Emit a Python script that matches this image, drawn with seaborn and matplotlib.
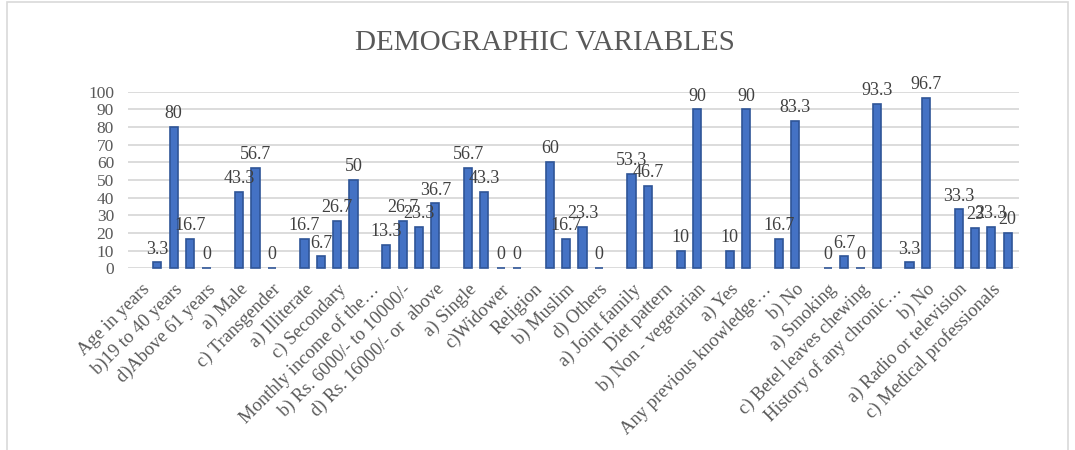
import numpy as np
import pandas as pd
import matplotlib
matplotlib.use('Agg')
import matplotlib.pyplot as plt
import seaborn as sns
from matplotlib.patches import Rectangle

# survey items in chart order; header rows have no value
items = [
    "Age in years", "a) Below 18 years", "b)19 to 40 years", "c) 41 to 60 years", "d)Above 61 years",
    "Gender", "a) Male", "b) Female", "c) Transgender",
    "Education", "a) Illiterate", "b) Primary", "c) Secondary", "d) Graduate",
    "Monthly income of the…", "a) Below Rs. 6000/-", "b) Rs. 6000/- to 10000/-",
    "c) Rs. 10001/- to 16000/-", "d) Rs. 16000/- or  above",
    "Marital status", "a) Single", "b) Married", "c)Widower", "d) Divorced",
    "Religion", "a) Hindu", "b) Muslim", "c) Christian", "d) Others",
    "Type of family", "a) Joint family", "b) Nuclear family",
    "Diet pattern", "a) Vegetarian", "b) Non - vegetarian",
    "Any family history…", "a) Yes", "b) No",
    "Any previous knowledge…", "a) Yes", "b) No",
    "Habits", "a) Smoking", "b) Alcohol", "c) Betel leaves chewing", "d) None",
    "History of any chronic…", "a) Yes", "b) No",
    "Source of information", "a) Radio or television", "b) Newspaper",
    "c) Medical professionals", "d) Friends and relatives",
]

values = [
    None, 3.3, 80, 16.7, 0,
    None, 43.3, 56.7, 0,
    None, 16.7, 6.7, 26.7, 50,
    None, 13.3, 26.7, 23.3, 36.7,
    None, 56.7, 43.3, 0, 0,
    None, 60, 16.7, 23.3, 0,
    None, 53.3, 46.7,
    None, 10, 90,
    None, 10, 90,
    None, 16.7, 83.3,
    None, 0, 6.7, 0, 93.3,
    None, 3.3, 96.7,
    None, 33.3, 23, 23.3, 20,
]

yticks = list(range(0, 101, 10))

sns.set_style('white')
plt.rcParams['font.family'] = ['Liberation Serif', 'DejaVu Serif']

df = pd.DataFrame({'pos': range(len(items)), 'item': items,
                   'value': [np.nan if v is None else v for v in values]})

fig = plt.figure(figsize=(10.75, 4.5), dpi=100)
ax = fig.add_axes([0.119, 0.404, 0.829, 0.392])

sns.barplot(data=df, x='pos', y='value', order=list(range(len(items))),
            color='#4472C4', saturation=1, width=0.5, edgecolor='#2F5597',
            linewidth=1.2, errorbar=None, ax=ax, zorder=3)
for p in ax.patches:
    p.set_clip_on(False)

# data labels
for i, v in enumerate(values):
    if v is None:
        continue
    ax.annotate(f'{v:g}', (i, v), xytext=(0, 3.5), textcoords='offset points',
                ha='center', va='bottom', fontsize=13, color='#404040')

ax.set_ylim(0, 100)
ax.set_xlim(-0.8, 53.7)
ax.set_yticks(yticks)
ax.set_yticklabels([str(t) for t in yticks], fontsize=12.5, color='#595959')
ax.yaxis.grid(True, color='#D9D9D9', linewidth=1.3, zorder=0)
ax.set_axisbelow(True)

# Excel shows every other category label
shown = list(range(0, len(items), 2))
ax.set_xticks(shown)
ax.set_xticklabels([items[i] for i in shown], rotation=45, ha='right',
                   rotation_mode='anchor', fontsize=13.3, color='#595959')
ax.tick_params(axis='x', length=0, pad=9)
ax.tick_params(axis='y', length=0, pad=10)
ax.set_xlabel('')
ax.set_ylabel('')
for s in ax.spines.values():
    s.set_visible(False)

fig.text(0.507, 0.905, 'DEMOGRAPHIC VARIABLES', ha='center', va='center',
         fontsize=21, color='#595959')

fig.patches.append(Rectangle((0.0065, -0.01), 0.987, 1.005, transform=fig.transFigure,
                             fill=False, edgecolor='#D9D9D9', linewidth=1.2))

fig.savefig('out.png', dpi=100)
